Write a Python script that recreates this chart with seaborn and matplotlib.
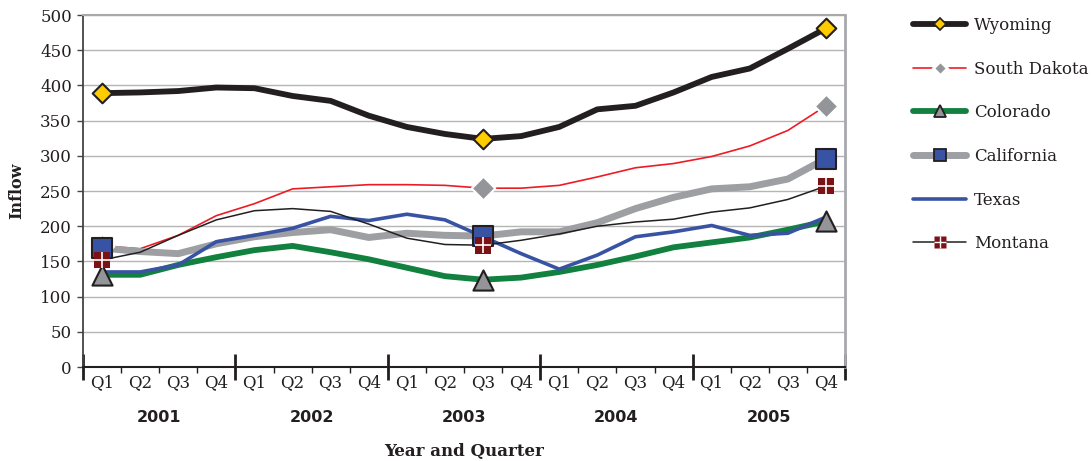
import numpy as np
import pandas as pd
import matplotlib
matplotlib.use("Agg")
import matplotlib.pyplot as plt
import seaborn as sns
from matplotlib.lines import Line2D
from matplotlib.legend_handler import HandlerTuple

# ---- data -------------------------------------------------------------
years = ["2001", "2002", "2003", "2004", "2005"]
quarters = ["Q1", "Q2", "Q3", "Q4"]
states = ["Wyoming", "South Dakota", "Colorado", "California", "Texas", "Montana"]

wyoming = [389, 390, 392, 397, 396, 385, 378, 357, 341, 331,
           324, 328, 341, 366, 371, 390, 412, 424, 452, 481]
south_dakota = [172, 168, 187, 215, 232, 253, 256, 259, 259, 258,
                254, 254, 258, 270, 283, 289, 299, 314, 336, 371]
colorado = [131, 131, 145, 156, 166, 172, 163, 153, 141, 129,
            124, 127, 135, 145, 157, 170, 177, 184, 195, 207]
california = [169, 164, 161, 175, 185, 191, 195, 184, 190, 187,
              186, 192, 192, 205, 225, 241, 253, 256, 267, 296]
texas = [135, 135, 145, 178, 187, 197, 214, 208, 217, 209,
         185, 161, 139, 159, 185, 192, 201, 187, 190, 213]
montana = [152, 163, 187, 209, 222, 225, 221, 203, 183, 174,
           173, 180, 189, 200, 206, 210, 220, 226, 238, 257]

# quarters that carry a highlight marker (first, 2003 Q3, last)
marked_quarters = [0, 10, 19]

series = {
    "Wyoming": wyoming,
    "South Dakota": south_dakota,
    "Colorado": colorado,
    "California": california,
    "Texas": texas,
    "Montana": montana,
}

n = len(years) * len(quarters)
quarter_idx = np.arange(n)
quarter_labels = quarters * len(years)

df = pd.concat(
    [pd.DataFrame({"quarter": quarter_idx, "inflow": vals, "state": name})
     for name, vals in series.items()],
    ignore_index=True,
)

# ---- styles -----------------------------------------------------------
INK = "#231F20"
palette = {
    "Wyoming": INK,
    "South Dakota": "#ED1C24",
    "Colorado": "#12803E",
    "California": "#9D9FA2",
    "Texas": "#3953A4",
    "Montana": INK,
}
widths = {
    "Wyoming": 4.2,
    "South Dakota": 1.2,
    "Colorado": 4.2,
    "California": 5.0,
    "Texas": 2.6,
    "Montana": 1.1,
}
marker_style = {
    "Wyoming": dict(marker="D", s=10.0 ** 2, color="#FFCC00", edgecolor=INK, linewidth=1.5),
    "South Dakota": dict(marker="D", s=12.0 ** 2, color="#939598", edgecolor="white", linewidth=1.5),
    "Colorado": dict(marker="^", s=14.5 ** 2, color="#939598", edgecolor=INK, linewidth=1.5),
    "California": dict(marker="s", s=14.0 ** 2, color="#3953A4", edgecolor=INK, linewidth=1.5),
    "Montana": dict(marker="s", s=12.0 ** 2, color="#7A1216", edgecolor="none", linewidth=0),
}

sns.set_style("white")
plt.rcParams["font.family"] = ["DejaVu Serif"]
plt.rcParams["text.color"] = INK

fig = plt.figure(figsize=(10.91, 4.61), dpi=100)
ax = fig.add_axes([83 / 1091, 1 - 367 / 461, (845 - 83) / 1091, (367 - 15) / 461])

sns.lineplot(
    data=df, x="quarter", y="inflow", hue="state", size="state",
    hue_order=states, size_order=states, palette=palette, sizes=widths,
    estimator=None, sort=False, legend=False, ax=ax,
    solid_capstyle="round", solid_joinstyle="round",
)

marked = df[df["quarter"].isin(marked_quarters)]
z = 5
for name in states:
    if name not in marker_style:
        continue
    sub = marked[marked["state"] == name]
    sns.scatterplot(data=sub, x="quarter", y="inflow", ax=ax, legend=False,
                    zorder=z, **marker_style[name])
    z += 1
    if name == "Montana":
        sns.scatterplot(data=sub, x="quarter", y="inflow", ax=ax, legend=False,
                        marker="+", s=12.0 ** 2, color="white", linewidth=1.2,
                        zorder=z)
        z += 1

# ---- axes -------------------------------------------------------------
ax.set_xlim(-0.5, n - 0.5)
ax.set_ylim(0, 500)
ax.set_yticks(np.arange(0, 501, 50))
ax.yaxis.grid(True, color="#B5B5B5", linewidth=1.0)
ax.xaxis.grid(False)
ax.set_axisbelow(True)

ax.spines["top"].set_color("#A7A9AC")
ax.spines["top"].set_linewidth(1.5)
ax.spines["right"].set_color("#A7A9AC")
ax.spines["right"].set_linewidth(2.0)
ax.spines["left"].set_color("#444444")
ax.spines["left"].set_linewidth(1.3)
ax.spines["bottom"].set_color(INK)
ax.spines["bottom"].set_linewidth(1.5)

ax.tick_params(axis="y", length=4, width=1, color="#444444", pad=4,
               labelsize=12, labelcolor=INK, left=True)

ax.set_xticks(quarter_idx, labels=quarter_labels)
ax.set_xticks(np.arange(-0.5, n, 1), minor=True)
ax.tick_params(axis="x", which="major", length=0, pad=5, labelsize=12, labelcolor=INK)
ax.tick_params(axis="x", which="minor", length=4, width=1, color=INK, direction="out",
               bottom=True)

# long ticks separating the years
sec = ax.secondary_xaxis("bottom")
sec.set_xticks(np.arange(-0.5, n, len(quarters)))
sec.tick_params(axis="x", length=19, width=2, color=INK, direction="inout",
                labelbottom=False)
sec.spines["bottom"].set_visible(False)

for i, yr in enumerate(years):
    center = i * len(quarters) + (len(quarters) - 1) / 2
    ax.annotate(yr, xy=(center, 0), xycoords=("data", "axes fraction"),
                xytext=(0, -36), textcoords="offset points",
                ha="center", va="center", fontsize=11.5, fontweight="bold",
                family="DejaVu Sans", color=INK)

ax.set_xlabel("")
ax.set_ylabel("Inflow", fontsize=11.5, fontweight="bold", color=INK)
ax.yaxis.set_label_coords(-0.076, 0.5)
fig.text(464 / 1091, 1 - 451 / 461, "Year and Quarter", ha="center", va="center",
         fontsize=12, fontweight="bold", color=INK)

# ---- legend -----------------------------------------------------------
handles = [
    Line2D([], [], color=palette["Wyoming"], lw=widths["Wyoming"], solid_capstyle="round",
           marker="D", ms=6, mfc="#FFCC00", mec=INK, mew=1.2),
    Line2D([], [], color=palette["South Dakota"], lw=widths["South Dakota"],
           marker="D", ms=7, mfc="#939598", mec="white", mew=2.0),
    Line2D([], [], color=palette["Colorado"], lw=widths["Colorado"], solid_capstyle="round",
           marker="^", ms=8, mfc="#939598", mec=INK, mew=1.3),
    Line2D([], [], color=palette["California"], lw=widths["California"], solid_capstyle="round",
           marker="s", ms=8, mfc="#3953A4", mec=INK, mew=1.3),
    Line2D([], [], color=palette["Texas"], lw=widths["Texas"], solid_capstyle="round"),
    (Line2D([], [], color=palette["Montana"], lw=widths["Montana"],
            marker="s", ms=8.5, mfc="#7A1216", mec="none"),
     Line2D([], [], ls="none", marker="+", ms=8.5, mec="white", mew=1.0)),
]
fig.legend(handles, states, loc="upper left", bbox_to_anchor=(913 / 1091, 1 - 17 / 461),
           frameon=False, fontsize=12, handlelength=3.2, handletextpad=0.45,
           labelspacing=1.6, borderpad=0, borderaxespad=0,
           handler_map={tuple: HandlerTuple(ndivide=1)})

fig.savefig("out.png", dpi=100)
